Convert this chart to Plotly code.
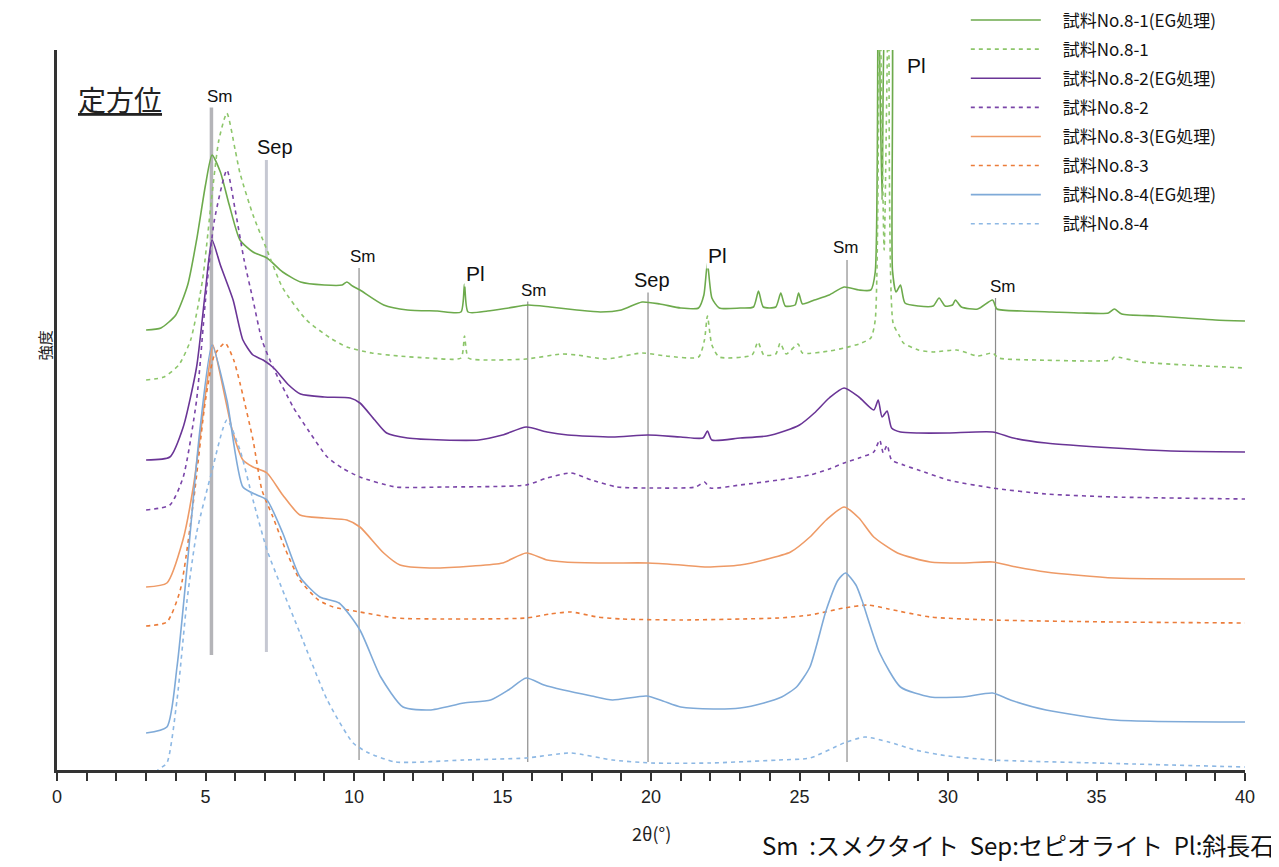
import plotly.graph_objects as go

# ---------------- data (2θ in degrees, intensity in arbitrary offset units) ----------------
x_81eg = [3.0, 3.5, 4.0, 4.4, 4.7, 5.0, 5.22, 5.5, 5.8, 6.16, 6.6, 7.07, 7.6, 8.2, 9.0, 9.6, 9.76, 9.95,
          10.2, 11.0, 11.8, 12.8, 13.6, 13.72, 13.84, 14.5, 15.2, 15.85, 16.6, 17.5, 18.3, 19.0, 19.7,
          20.3, 21.0, 21.6, 21.78, 21.9, 22.05, 22.3, 23.0, 23.45, 23.62, 23.78, 24.2, 24.37, 24.52,
          24.85, 24.97, 25.1, 25.5, 26.0, 26.5, 27.0, 27.4, 27.55, 27.65, 27.78, 27.95, 28.05, 28.13,
          28.25, 28.4, 28.55, 29.0, 29.5, 29.7, 29.9, 30.15, 30.25, 30.45, 31.0, 31.5, 31.65, 32.5,
          33.5, 34.5, 35.4, 35.6, 35.85, 37.0, 38.0, 39.0, 40.0]
y_81eg = [440, 442, 455, 485, 530, 585, 615, 598, 565, 530, 518, 512, 498, 488, 485, 485, 488, 484,
          480, 465, 460, 459, 458, 486, 458, 459, 462, 465, 463, 460, 458, 460, 468,
          466, 462, 462, 475, 507, 472, 462, 462, 463, 479, 463, 463, 477, 464,
          465, 477, 466, 470, 475, 483, 480, 480, 498, 800, 570, 800, 800, 500,
          478, 485, 467, 464, 464, 472, 464, 465, 470, 463, 461, 470, 461, 459,
          458, 457, 457, 461, 456, 454, 452, 450, 449]

x_81 = [3.0, 3.6, 4.1, 4.5, 4.9, 5.2, 5.45, 5.72, 6.0, 6.16, 6.6, 7.07, 7.6, 8.4, 9.2, 9.76, 10.6,
        11.5, 12.5, 13.6, 13.72, 13.85, 14.5, 15.8, 17.0, 17.5, 18.5, 19.7, 20.5, 21.6, 21.8, 21.9,
        22.05, 22.3, 23.4, 23.6, 23.8, 24.2, 24.35, 24.55, 24.95, 25.1, 26.0, 26.5, 27.0, 27.4, 27.55,
        27.7, 27.85, 28.0, 28.15, 28.35, 28.5, 29.0, 29.5, 30.3, 31.0, 31.5, 31.7, 33.0, 35.5, 35.6,
        36.5, 38.0, 40.0]
y_81 = [390, 393, 405, 430, 490, 570, 630, 657, 620, 597, 555, 520, 482, 450, 432, 423, 417,
        414, 412, 412, 434, 412, 410, 411, 416, 415, 411, 417, 414, 413, 430, 454,
        425, 413, 415, 428, 415, 416, 427, 416, 426, 417, 419, 422, 426, 432, 450,
        780, 520, 780, 447, 435, 427, 420, 418, 420, 414, 417, 412, 410, 410, 413,
        408, 405, 402]

x_82eg = [3.0, 3.8, 4.25, 4.7, 5.0, 5.22, 5.5, 5.93, 6.26, 6.6, 6.94, 7.3, 7.8, 8.2, 9.0, 9.87, 10.2,
          10.7, 11.1, 11.8, 13.0, 14.2, 15.0, 15.8, 16.5, 17.2, 18.7, 19.9, 21.0, 21.75, 21.9, 22.05,
          23.0, 23.9, 24.5, 25.0, 25.5, 26.0, 26.5, 27.0, 27.5, 27.65, 27.78, 27.95, 28.1, 28.4, 29.0,
          30.0, 31.5, 32.2, 33.3, 35.6, 37.5, 40.0]
y_82eg = [310, 313, 343, 403, 480, 530, 505, 470, 430, 415, 410, 402, 385, 376, 373, 372, 367,
          350, 337, 332, 330, 330, 335, 343, 338, 335, 333, 335, 333, 332, 339, 330,
          332, 334, 339, 345, 357, 372, 382, 373, 360, 370, 353, 359, 342, 338, 337,
          337, 338, 332, 327, 322, 319, 318]

x_82 = [3.0, 3.8, 4.25, 4.7, 5.0, 5.3, 5.72, 6.0, 6.3, 6.6, 6.9, 7.27, 7.95, 8.5, 9.1, 9.6, 10.2,
        11.4, 13.0, 15.8, 16.5, 17.3, 18.0, 18.85, 20.0, 21.5, 21.8, 22.0, 23.0, 24.3, 25.35, 26.0,
        26.5, 27.0, 27.5, 27.7, 27.82, 27.95, 28.1, 28.5, 29.0, 30.0, 31.5, 33.3, 35.6, 40.0]
y_82 = [260, 265, 293, 370, 470, 550, 600, 560, 510, 470, 430, 403, 363, 338, 313, 302, 293,
        283, 283, 285, 292, 297, 290, 283, 282, 283, 288, 282, 285, 290, 295, 301,
        307, 312, 318, 330, 317, 325, 310, 305, 300, 290, 282, 276, 273, 271]

x_83eg = [3.0, 3.7, 4.24, 4.6, 5.05, 5.25, 5.5, 5.9, 6.26, 6.6, 7.07, 7.6, 8.18, 9.0, 9.76, 10.2, 11.0,
          11.55, 12.55, 14.0, 15.0, 15.8, 16.5, 17.1, 18.5, 19.9, 21.0, 21.9, 23.0, 23.8, 24.7, 25.35,
          25.9, 26.5, 27.0, 27.5, 28.3, 29.4, 30.5, 31.5, 32.3, 33.3, 35.6, 40.0]
y_83eg = [183, 187, 230, 285, 387, 425, 395, 340, 310, 303, 297, 275, 255, 252, 250, 243, 217,
          205, 202, 204, 207, 217, 210, 208, 207, 207, 205, 203, 205, 210, 218, 233,
          250, 263, 252, 233, 217, 208, 207, 208, 203, 198, 192, 191]

x_83 = [3.0, 3.7, 4.15, 4.6, 5.0, 5.3, 5.66, 5.95, 6.16, 6.6, 6.9, 7.27, 7.7, 8.18, 8.8, 9.3, 10.2,
        11.4, 13.0, 15.8, 16.6, 17.3, 18.2, 19.0, 21.0, 23.0, 24.3, 25.35, 26.5, 27.3, 28.0, 29.4,
        31.5, 35.6, 40.0]
y_83 = [144, 148, 180, 270, 370, 415, 427, 410, 387, 330, 280, 253, 220, 190, 170, 163, 158,
        152, 151, 152, 156, 158, 153, 151, 150, 151, 152, 155, 162, 165, 161, 153,
        150, 148, 147]

x_84eg = [3.0, 3.7, 4.04, 4.38, 4.8, 5.22, 5.72, 6.26, 6.73, 7.07, 7.6, 8.18, 8.85, 9.5, 10.2, 10.9,
          11.65, 12.55, 13.7, 14.6, 15.2, 15.8, 16.4, 17.05, 18.0, 18.7, 19.85, 20.4, 21.0, 22.1, 23.0,
          23.8, 24.4, 24.9, 25.35, 25.9, 26.3, 26.55, 26.9, 27.1, 27.7, 28.4, 29.4, 30.5, 31.5, 32.1,
          33.3, 35.6, 40.0]
y_84eg = [37, 43, 103, 203, 337, 425, 370, 283, 275, 270, 237, 193, 173, 167, 140, 93,
          63, 60, 67, 70, 80, 92, 85, 80, 74, 70, 74, 69, 63, 61, 62,
          67, 73, 83, 103, 160, 190, 197, 185, 170, 117, 83, 73, 73, 77, 70,
          60, 50, 48]

x_84 = [3.0, 3.4, 3.7, 4.04, 4.38, 4.7, 5.2, 5.72, 6.16, 6.6, 7.07, 7.5, 8.18, 9.1, 9.97, 10.5, 11.4,
        13.7, 15.8, 17.3, 18.7, 20.0, 22.0, 24.3, 25.35, 26.5, 27.2, 28.0, 28.9, 30.0, 31.5, 35.0, 40.0]
y_84 = [-15, 0, 7, 70, 170, 237, 297, 350, 320, 270, 220, 187, 137, 70, 27, 17, 8,
        10, 12, 17, 10, 7, 7, 10, 12, 27, 33, 28, 20, 14, 10, 7, 3]

series_names = ["試料No.8-1(EG処理)", "試料No.8-1", "試料No.8-2(EG処理)", "試料No.8-2",
                "試料No.8-3(EG処理)", "試料No.8-3", "試料No.8-4(EG処理)", "試料No.8-4"]
series_x = [x_81eg, x_81, x_82eg, x_82, x_83eg, x_83, x_84eg, x_84]
series_y = [y_81eg, y_81, y_82eg, y_82, y_83eg, y_83, y_84eg, y_84]
series_colors = ["#6DAA4C", "#8DC66B", "#6A3596", "#7A45A8", "#EE9A66", "#EB7C3A", "#7FAAD8", "#8DB8E4"]
series_dash = ["solid", "4px,4px", "solid", "4px,4px", "solid", "4px,4px", "solid", "4px,4px"]

# reference lines: position, lower and upper intensity
ref_pos = [5.2, 7.05, 10.17, 15.85, 19.9, 26.6, 31.6]
ref_lo = [115, 118, 10, 8, 8, 8, 8]
ref_hi = [665, 610, 502, 472, 487, 510, 472]
ref_width = [3.5, 3, 1.2, 1.2, 1.2, 1.2, 1.2]
ref_color = ["#B4B4B8", "#C6C8D2", "#8C8C8C", "#8C8C8C", "#8C8C8C", "#8C8C8C", "#8C8C8C"]

# peak labels
lab_text = ["Sm", "Sep", "Sm", "Pl", "Sm", "Sep", "Pl", "Sm", "Pl", "Sm"]
lab_x = [5.5, 7.35, 10.3, 14.1, 16.05, 20.05, 22.25, 26.55, 28.95, 31.85]
lab_y = [674, 623, 514, 497, 480, 490, 515, 523, 705, 484]
lab_size = [17, 20, 17, 21, 17, 20, 21, 17, 21, 17]

x_ticks = [0, 5, 10, 15, 20, 25, 30, 35, 40]

# ---------------- figure ----------------
fig = go.Figure()

for p, lo, hi, w, c in zip(ref_pos, ref_lo, ref_hi, ref_width, ref_color):
    fig.add_trace(go.Scatter(x=[p, p], y=[lo, hi], mode="lines",
                             line=dict(color=c, width=w), showlegend=False, hoverinfo="skip"))

for i, (name, xs, ys, col, dsh) in enumerate(zip(series_names, series_x, series_y, series_colors, series_dash)):
    fig.add_trace(go.Scatter(x=xs, y=ys, mode="lines", name="\u3000" + name, legendgroup="g%d" % i,
                             line=dict(color=col, width=1.6, dash=dsh, shape="spline", smoothing=0.6)))

for t, xx, yy, s in zip(lab_text, lab_x, lab_y, lab_size):
    fig.add_annotation(x=xx, y=yy, text=t, showarrow=False, xref="x", yref="y",
                       font=dict(size=s, color="#111", family="Liberation Sans, Arial"),
                       bgcolor="white", borderpad=1)

fig.add_annotation(x=0.053, y=0.932, xref="paper", yref="paper", text="<u>定方位</u>",
                   showarrow=False, font=dict(size=28, color="#222", family="Noto Sans CJK JP"),
                   xanchor="center", yanchor="middle")
fig.add_annotation(x=-0.011, y=0.59, xref="paper", yref="paper", text="強度", textangle=-90,
                   showarrow=False, font=dict(size=15, color="#222", family="Noto Sans CJK JP"),
                   xanchor="center", yanchor="middle")
fig.add_annotation(x=0.5, y=-0.088, xref="paper", yref="paper", text="2θ(°)",
                   showarrow=False, font=dict(size=18, color="#222", family="Noto Sans CJK JP"),
                   xanchor="center", yanchor="middle")
fig.add_annotation(x=1.026, y=-0.104, xref="paper", yref="paper",
                   text="Sm  :スメクタイト  Sep:セピオライト  Pl:斜長石",
                   showarrow=False, font=dict(size=24, color="#111", family="Noto Sans CJK JP"),
                   xanchor="right", yanchor="middle")

# the page body adds an 8px offset, so the figure is shrunk by that amount
fig.update_layout(
    width=1271, height=859,
    margin=dict(l=49, r=34, t=42, b=97, autoexpand=False),
    paper_bgcolor="white", plot_bgcolor="white",
    font=dict(family="Noto Sans CJK JP", color="#222"),
    legend=dict(x=0.765, y=1.066, xanchor="left", yanchor="top",
                font=dict(size=17, color="#111", family="Noto Sans CJK JP"),
                bgcolor="rgba(255,255,255,0)", itemwidth=70, tracegroupgap=4),
    xaxis=dict(range=[0, 40], showgrid=False, zeroline=False, showline=True,
               linecolor="#333", linewidth=3, ticks="outside", ticklen=8, tickwidth=1.5,
               tickcolor="#333", tickvals=x_ticks,
               minor=dict(dtick=1, ticks="outside", ticklen=8, tickwidth=1.5, tickcolor="#333"),
               tickfont=dict(size=18, color="#222", family="Liberation Sans, Arial")),
    yaxis=dict(range=[0, 720], showgrid=False, zeroline=False, showline=True,
               linecolor="#333", linewidth=3, showticklabels=False, ticks=""),
)

fig.write_html("out.html")
